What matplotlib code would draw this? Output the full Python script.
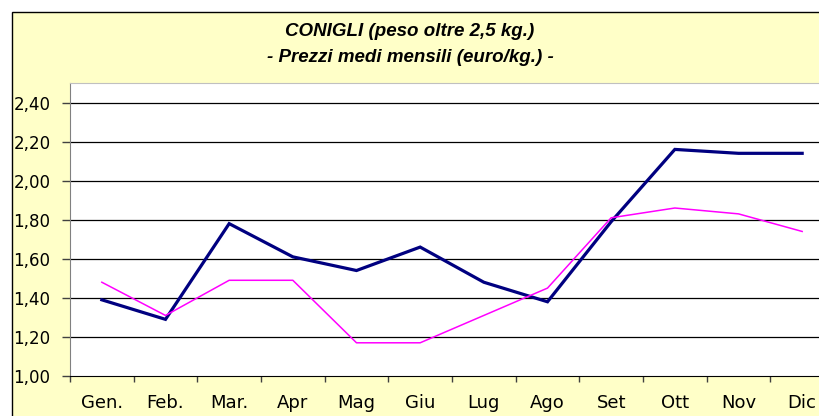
import matplotlib
matplotlib.use("Agg")
import matplotlib.pyplot as plt
from matplotlib.patches import Rectangle

months = ["Gen.", "Feb.", "Mar.", "Apr", "Mag", "Giu", "Lug", "Ago", "Set", "Ott", "Nov", "Dic"]
prezzi_blu = [1.39, 1.29, 1.78, 1.61, 1.54, 1.66, 1.48, 1.38, 1.79, 2.16, 2.14, 2.14]
prezzi_magenta = [1.48, 1.31, 1.49, 1.49, 1.17, 1.17, 1.31, 1.45, 1.81, 1.86, 1.83, 1.74]
y_ticks = [1.0, 1.2, 1.4, 1.6, 1.8, 2.0, 2.2, 2.4]
y_labels = ["1,00", "1,20", "1,40", "1,60", "1,80", "2,00", "2,20", "2,40"]
title_1 = "CONIGLI (peso oltre 2,5 kg.)"
title_2 = "- Prezzi medi mensili (euro/kg.) -"

W, H = 820, 416
fig = plt.figure(figsize=(W / 100, H / 100), dpi=100, facecolor="white")

# chart area (yellow, cut off at right/bottom like the original)
fig.patches.append(Rectangle((12.5 / W, -0.1), 1.0, (H - 12.5) / H + 0.1,
                             transform=fig.transFigure, facecolor="#FFFFC8",
                             edgecolor="black", linewidth=1.0, zorder=-1))

ax = fig.add_axes([70 / W, 1 - 376 / H, (834 - 70) / W, (376 - 83) / H])
ax.set_zorder(1)
ax.set_facecolor("white")
x = list(range(len(months)))
ax.plot(x, prezzi_blu, color="#000080", linewidth=2.3, solid_joinstyle="miter", zorder=3)
ax.plot(x, prezzi_magenta, color="#FF00FF", linewidth=1.1, zorder=3)

ax.set_xlim(-0.5, len(months) - 0.5)
ax.set_ylim(1.0, 2.5)
ax.set_yticks(y_ticks)
ax.set_yticklabels(y_labels)
for v in y_ticks[1:]:
    ax.axhline(v, color="black", linewidth=0.9, zorder=1)

ax.set_xticks([i - 0.5 for i in range(len(months) + 1)])
ax.set_xticklabels([])
ax.set_xticks(x, minor=True)
ax.set_xticklabels(months, minor=True)
ax.tick_params(axis="x", which="major", length=4, width=1, color="#404040", direction="out")
ax.tick_params(axis="x", which="minor", length=0, pad=13, labelsize=13)
ax.tick_params(axis="y", length=6, width=1, color="#404040", pad=8, labelsize=12)

for side in ["top", "right"]:
    ax.spines[side].set_color("#C0C0C0")
ax.spines["left"].set_color("#808080")
ax.spines["bottom"].set_color("black")

fig.text(0.5, 1 - 31 / H, title_1, ha="center", va="center", fontsize=13.5,
         family="Liberation Sans", weight="bold", style="italic", zorder=2)
fig.text(0.5, 1 - 57 / H, title_2, ha="center", va="center", fontsize=13.5,
         family="Liberation Sans", weight="bold", style="italic", zorder=2)

fig.savefig("out.png", dpi=100, facecolor=fig.get_facecolor())
